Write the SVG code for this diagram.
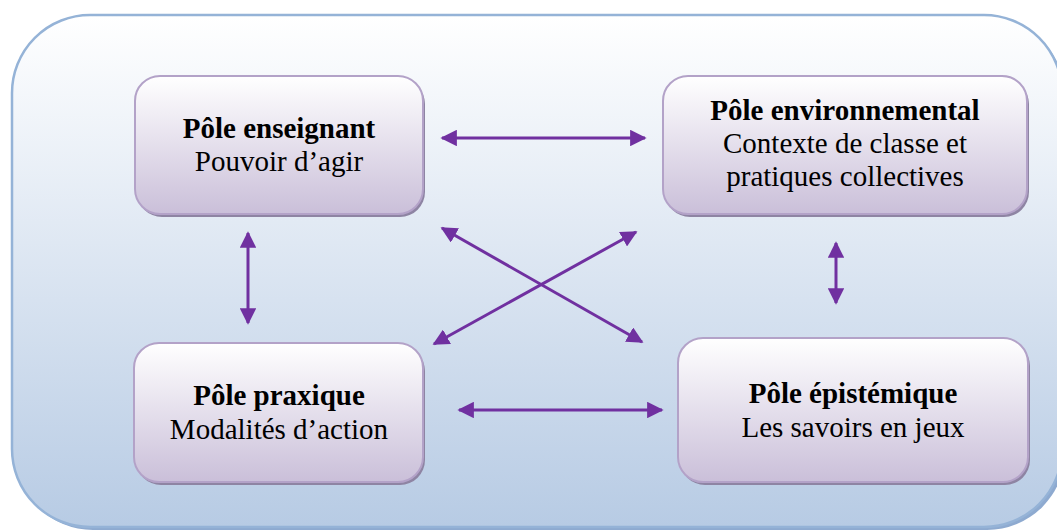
<svg xmlns="http://www.w3.org/2000/svg" width="1057" height="531" viewBox="0 0 1057 531">
<style>
.box{fill:url(#boxGrad);stroke:#b3a2c8;stroke-width:2}
.shadow{fill:#8e84a3}
.t{font-family:"Liberation Serif","Times New Roman",serif;font-size:29px;fill:#000;text-anchor:middle}
.b{font-weight:bold}
.conn{stroke:#7030a0;stroke-width:3;fill:none;marker-start:url(#ah);marker-end:url(#ah)}
</style>
<defs>
<linearGradient id="bgGrad" x1="0" y1="0" x2="0" y2="1">
<stop offset="0" stop-color="#ffffff"/>
<stop offset="1" stop-color="#b7cbe4"/>
</linearGradient>
<linearGradient id="boxGrad" x1="0" y1="0" x2="0" y2="1">
<stop offset="0" stop-color="#ffffff"/>
<stop offset="1" stop-color="#cabfd9"/>
</linearGradient>
<marker id="ah" viewBox="0 0 10 10" refX="9" refY="5" markerWidth="5.5" markerHeight="5.5" markerUnits="strokeWidth" orient="auto-start-reverse">
<path d="M0,0 L10,5 L0,10 z" fill="#7030a0"/>
</marker>
</defs>
<g id="frame">
<rect x="15" y="18" width="1050" height="512" rx="78" ry="78" fill="#8eaad0"/>
<rect x="12" y="15" width="1050" height="512" rx="78" ry="78" fill="url(#bgGrad)" stroke="#95b3d7" stroke-width="2.5"/>
</g>
<g id="connectors">
<line class="conn" x1="442" y1="138" x2="645" y2="138"/>
<line class="conn" x1="459" y1="410" x2="662" y2="410"/>
<line class="conn" x1="248" y1="233" x2="248" y2="323"/>
<line class="conn" x1="836" y1="243" x2="836" y2="303"/>
<line class="conn" x1="442" y1="228" x2="642" y2="342"/>
<line class="conn" x1="636" y1="232" x2="434" y2="344"/>
</g>
<g id="pole-enseignant">
<rect class="shadow" x="137" y="79" width="288" height="138" rx="25"/>
<rect class="box" x="135" y="76" width="288" height="138" rx="25"/>
<text class="t b" x="279" y="138">Pôle enseignant</text>
<text class="t" x="279" y="171">Pouvoir d’agir</text>
</g>
<g id="pole-environnemental">
<rect class="shadow" x="665" y="79" width="364" height="138" rx="25"/>
<rect class="box" x="663" y="76" width="364" height="138" rx="25"/>
<text class="t b" x="845" y="120">Pôle environnemental</text>
<text class="t" x="845" y="153">Contexte de classe et</text>
<text class="t" x="845" y="186">pratiques collectives</text>
</g>
<g id="pole-praxique">
<rect class="shadow" x="136" y="346" width="289" height="139" rx="25"/>
<rect class="box" x="134" y="343" width="289" height="139" rx="25"/>
<text class="t b" x="279" y="405">Pôle praxique</text>
<text class="t" x="279" y="439">Modalités d’action</text>
</g>
<g id="pole-epistemique">
<rect class="shadow" x="680" y="341" width="350" height="144" rx="25"/>
<rect class="box" x="678" y="338" width="350" height="144" rx="25"/>
<text class="t b" x="853" y="403">Pôle épistémique</text>
<text class="t" x="853" y="437">Les savoirs en jeux</text>
</g>
</svg>
